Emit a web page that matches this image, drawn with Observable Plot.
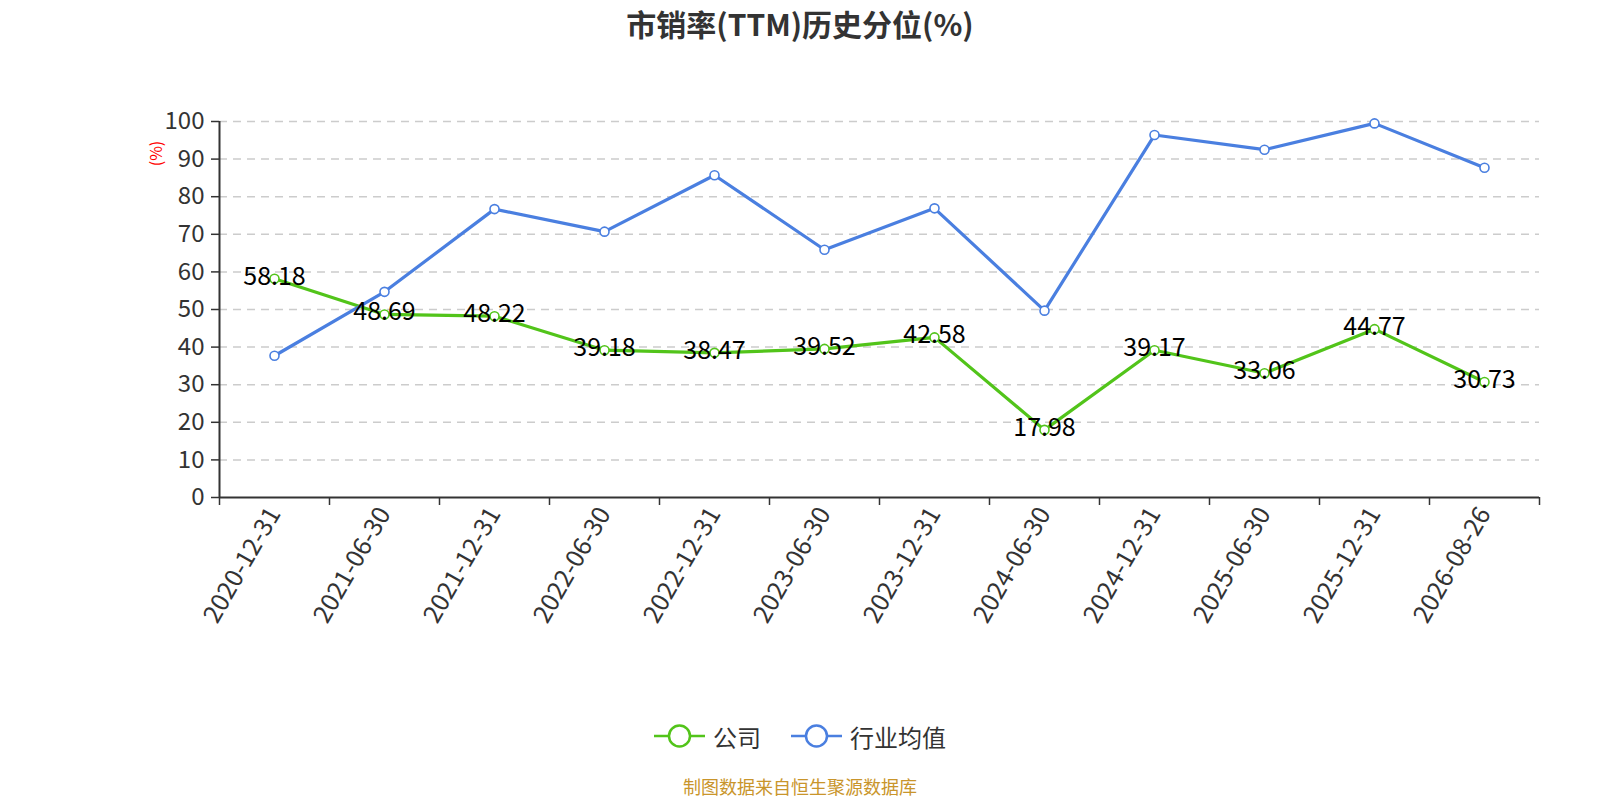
<!DOCTYPE html>
<html><head><meta charset="utf-8">
<script src="https://cdn.jsdelivr.net/npm/d3@7"></script>
<script src="https://cdn.jsdelivr.net/npm/@observablehq/plot@0.6"></script>
<style>
body{margin:0;background:#fff;font-family:"Noto Sans CJK SC","Noto Sans",sans-serif;width:1600px;overflow:hidden;}
#title{height:50px;line-height:46px;text-align:center;font-size:30px;font-weight:bold;color:#333;}
#chart{height:650px;}
#legend{height:72px;display:flex;justify-content:center;align-items:center;gap:30px;font-size:24px;color:#333;}
.item{display:flex;align-items:center;gap:8px;}
#caption{height:28px;text-align:center;font-size:18px;color:#c9952b;line-height:28px;}
</style></head><body>
<div id="title">市销率(TTM)历史分位(%)</div>
<div id="chart"></div>
<div id="legend"></div>
<div id="caption">制图数据来自恒生聚源数据库</div>
<script>
const dates = ["2020-12-31","2021-06-30","2021-12-31","2022-06-30","2022-12-31","2023-06-30","2023-12-31","2024-06-30","2024-12-31","2025-06-30","2025-12-31","2026-08-26"];
const company = [58.18,48.69,48.22,39.18,38.47,39.52,42.58,17.98,39.17,33.06,44.77,30.73];
const industry = [37.7,54.7,76.7,70.7,85.7,65.9,76.9,49.7,96.4,92.5,99.5,87.7];
const yTicks = [0,10,20,30,40,50,60,70,80,90,100];
const seriesNames = ["公司","行业均值"];
const seriesColors = ["#52c41a","#4a7fe0"];
const yLabel = "(%)";

const rows = [];
dates.forEach((d,i)=>rows.push({series:seriesNames[0], x:i+0.5, date:d, value:company[i]}));
dates.forEach((d,i)=>rows.push({series:seriesNames[1], x:i+0.5, date:d, value:industry[i]}));
const companyRows = rows.filter(r=>r.series===seriesNames[0]);
const centers = dates.map((d,i)=>i+0.5);
const bounds = d3.range(dates.length+1);
const font = '"Noto Sans CJK SC","Noto Sans",sans-serif';

const plot = Plot.plot({
  width:1600, height:650,
  marginTop:71, marginBottom:203, marginLeft:219, marginRight:61,
  style:{fontFamily:font, background:"white", overflow:"visible"},
  x:{type:"linear", domain:[0, dates.length]},
  y:{domain:[0,100]},
  color:{domain:seriesNames, range:seriesColors},
  marks:[
    Plot.gridY(yTicks.slice(1),{stroke:"#ccc", strokeOpacity:1, strokeDasharray:"8,6", strokeWidth:1.5}),
    Plot.axisY({ticks:yTicks, tickSize:8, tickPadding:7, fontSize:24, fill:"#333", stroke:"#333", strokeWidth:1.5, label:null}),
    Plot.ruleX([0],{y1:0, y2:100, stroke:"#333", strokeWidth:2}),
    Plot.axisX({ticks:bounds, tickSize:8, tickFormat:()=>"", stroke:"#333", strokeWidth:1.5, label:null}),
    Plot.axisX({ticks:centers, tickSize:0, tickPadding:12, tickRotate:-60, tickFormat:d=>dates[Math.floor(d)], fontSize:25, fill:"#333", label:null}),
    Plot.ruleY([0],{stroke:"#333", strokeWidth:2}),
    Plot.line(rows,{x:"x", y:"value", z:"series", stroke:"series", strokeWidth:3.2}),
    Plot.dot(rows,{x:"x", y:"value", r:4.5, fill:"white", stroke:"series", strokeWidth:1.6}),
    Plot.text(companyRows,{x:"x", y:"value", text:d=>d.value.toFixed(2), fontSize:25, fill:"black", dy:-2}),
    Plot.text([yLabel],{text:d=>d, frameAnchor:"top-left", dx:-63, dy:32, rotate:-90, fill:"red", fontSize:16, textAnchor:"middle", lineAnchor:"middle"})
  ]
});
document.getElementById("chart").appendChild(plot);

const legend = document.getElementById("legend");
seriesNames.forEach((name,i)=>{
  const item = document.createElement("div");
  item.className = "item";
  item.innerHTML = `<svg width="51" height="26"><line x1="0" y1="13" x2="51" y2="13" stroke="${seriesColors[i]}" stroke-width="2.5"/><circle cx="25.5" cy="13" r="10.5" fill="white" stroke="${seriesColors[i]}" stroke-width="2.5"/></svg><span>${name}</span>`;
  legend.appendChild(item);
});
</script>
</body></html>
